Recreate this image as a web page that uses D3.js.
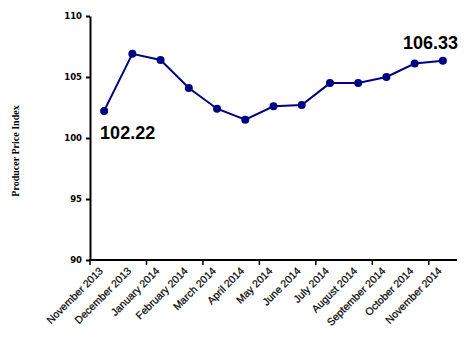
<!DOCTYPE html>
<html><head><meta charset="utf-8">
<script src="https://cdn.jsdelivr.net/npm/d3@7"></script>
<style>body{margin:0;background:#fff}</style>
</head><body>
<svg id="c" width="469" height="364"></svg>
<script>
const categories = ["November 2013","December 2013","January 2014","February 2014","March 2014","April 2014","May 2014","June 2014","July 2014","August 2014","September 2014","October 2014","November 2014"];
const values = [102.22,106.9,106.4,104.1,102.4,101.5,102.6,102.7,104.5,104.5,105.0,106.1,106.33];
const yTicks = [90,95,100,105,110];
const annotations = [{i:0,text:"102.22",dx:-4,dy:28},{i:12,text:"106.33",dx:-40,dy:-12}];

const svg = d3.select("#c");
const x = d3.scaleBand().domain(categories).range([90,457]).padding(0);
const y = d3.scaleLinear().domain([90,110]).range([260,16]);
const cx = d => x(d) + x.bandwidth()/2;

// Y axis
const ya = svg.append("g").attr("transform","translate(90,0)")
  .call(d3.axisLeft(y).tickValues(yTicks).tickSize(4).tickSizeOuter(0).tickPadding(4));
ya.select(".domain").attr("stroke","#000").attr("stroke-width",2);
ya.selectAll(".tick line").attr("stroke","#000").attr("stroke-width",2);
ya.selectAll(".tick text").attr("font-family","DejaVu Sans").attr("font-weight","bold").attr("font-size","8.5px").attr("fill","#000");

// X axis line and ticks
svg.append("line").attr("x1",89).attr("x2",457).attr("y1",260).attr("y2",260).attr("stroke","#000").attr("stroke-width",2);
categories.forEach((c,i)=>{ if(i%2===0) svg.append("line").attr("x1",x(c)).attr("x2",x(c)).attr("y1",260).attr("y2",265).attr("stroke","#000").attr("stroke-width",1.5); });
svg.append("g").selectAll("text").data(categories).join("text")
  .attr("transform",d=>`translate(${cx(d)-3},269) rotate(-45)`)
  .attr("text-anchor","end").attr("dy","0.35em")
  .attr("font-family","Liberation Sans, Arial").attr("font-size","10.5px").attr("fill","#000")
  .attr("stroke","#000").attr("stroke-width",0.2)
  .text(d=>d);

// Y title
svg.append("text").attr("transform","translate(19,151) rotate(-90)")
  .attr("text-anchor","middle").attr("font-family","Liberation Serif").attr("font-weight","bold").attr("font-size","10px")
  .text("Producer Price Index");

// Line
const line = d3.line().x((d,i)=>cx(categories[i])).y(d=>y(d));
svg.append("path").datum(values).attr("d",line).attr("fill","none").attr("stroke","#000080").attr("stroke-width",2);
svg.append("g").selectAll("circle").data(values).join("circle")
  .attr("cx",(d,i)=>cx(categories[i])).attr("cy",d=>y(d)).attr("r",4).attr("fill","#000080");

// Annotations
svg.append("g").selectAll("text").data(annotations).join("text")
  .attr("x",d=>cx(categories[d.i])+d.dx).attr("y",d=>y(values[d.i])+d.dy)
  .attr("font-family","Liberation Sans, Arial").attr("font-weight","bold").attr("font-size","18px").attr("fill","#000")
  .text(d=>d.text);
</script>
</body></html>
